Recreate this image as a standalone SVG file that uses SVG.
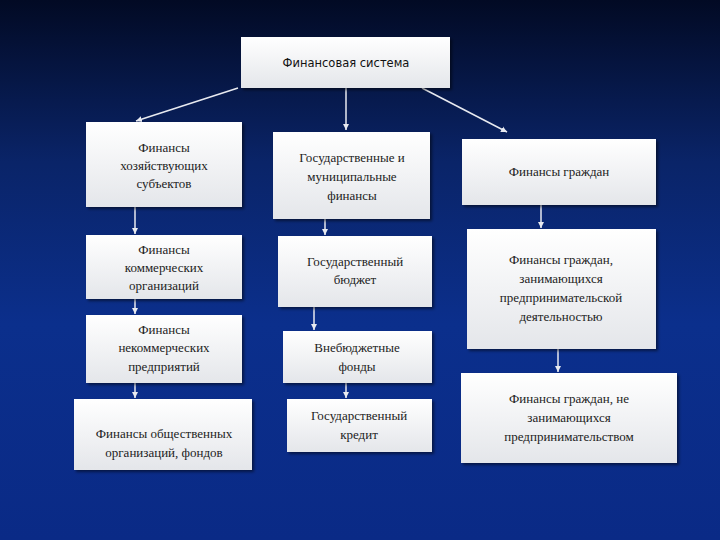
<svg xmlns="http://www.w3.org/2000/svg" width="720" height="540" viewBox="0 0 720 540">
<defs>
<linearGradient id="bg" x1="0" y1="0" x2="0" y2="1">
<stop offset="0" stop-color="#020a24"/><stop offset="0.3" stop-color="#0a2468"/><stop offset="0.6" stop-color="#0b2f8c"/><stop offset="1" stop-color="#0a2a86"/>
</linearGradient>
<linearGradient id="box" x1="0" y1="0" x2="0" y2="1">
<stop offset="0" stop-color="#ffffff"/><stop offset="1" stop-color="#e4e6ea"/>
</linearGradient>
<filter id="sh" x="-10%" y="-10%" width="130%" height="130%"><feDropShadow dx="2" dy="2" stdDeviation="1.5" flood-color="#000" flood-opacity="0.5"/></filter>
<marker id="ar" markerWidth="8" markerHeight="8" refX="6" refY="4" orient="auto" markerUnits="userSpaceOnUse"><path d="M0,1 L6,4 L0,7 z" fill="#e8eaf0"/></marker>
<style>
.b{fill:url(#box);filter:url(#sh)}
.t{font-family:"Liberation Serif",serif;font-size:13px;fill:#222;text-anchor:middle}
.h{font-family:"DejaVu Sans",sans-serif;font-size:11.5px;fill:#111;text-anchor:middle}
.c line{stroke:#e8eaf0;stroke-width:1.5;marker-end:url(#ar)}
</style>
</defs>
<rect width="720" height="540" fill="url(#bg)"/>
<g class="c">
<line x1="238" y1="88" x2="136" y2="121"/>
<line x1="346" y1="88" x2="346" y2="130"/>
<line x1="422" y1="88" x2="507" y2="132"/>
<line x1="135" y1="207" x2="135" y2="234"/>
<line x1="135" y1="299" x2="135" y2="314"/>
<line x1="135" y1="383" x2="135" y2="398"/>
<line x1="325" y1="219" x2="325" y2="235"/>
<line x1="314" y1="307" x2="314" y2="330"/>
<line x1="346" y1="383" x2="346" y2="398"/>
<line x1="541" y1="205" x2="541" y2="228"/>
<line x1="558" y1="349" x2="558" y2="372"/>
</g>
<g id="top"><rect class="b" x="241" y="37" width="209" height="51"/><text class="h" x="346" y="67">Финансовая система</text></g>
<g id="a"><rect class="b" x="86" y="122" width="156" height="85"/><text class="t" x="164" y="152">Финансы</text><text class="t" x="164" y="170">хозяйствующих</text><text class="t" x="164" y="188">субъектов</text></g>
<g id="b"><rect class="b" x="86" y="235" width="156" height="64"/><text class="t" x="164" y="254">Финансы</text><text class="t" x="164" y="272">коммерческих</text><text class="t" x="164" y="290">организаций</text></g>
<g id="c"><rect class="b" x="86" y="315" width="156" height="68"/><text class="t" x="164" y="334">Финансы</text><text class="t" x="164" y="352">некоммерческих</text><text class="t" x="164" y="371">предприятий</text></g>
<g id="d"><rect class="b" x="74" y="399" width="178" height="71"/><text class="t" x="164" y="438">Финансы общественных</text><text class="t" x="164" y="457">организаций, фондов</text></g>
<g id="e"><rect class="b" x="273" y="132" width="157" height="87"/><text class="t" x="352" y="162">Государственные и</text><text class="t" x="352" y="181">муниципальные</text><text class="t" x="352" y="200">финансы</text></g>
<g id="f"><rect class="b" x="278" y="236" width="154" height="71"/><text class="t" x="355" y="266">Государственный</text><text class="t" x="355" y="284">бюджет</text></g>
<g id="g"><rect class="b" x="283" y="331" width="149" height="52"/><text class="t" x="357" y="352">Внебюджетные</text><text class="t" x="357" y="371">фонды</text></g>
<g id="h"><rect class="b" x="287" y="399" width="145" height="53"/><text class="t" x="359" y="420">Государственный</text><text class="t" x="359" y="439">кредит</text></g>
<g id="i"><rect class="b" x="462" y="139" width="194" height="66"/><text class="t" x="559" y="176">Финансы граждан</text></g>
<g id="j"><rect class="b" x="467" y="229" width="189" height="120"/><text class="t" x="561" y="264">Финансы граждан,</text><text class="t" x="561" y="283">занимающихся</text><text class="t" x="561" y="302">предпринимательской</text><text class="t" x="561" y="321">деятельностью</text></g>
<g id="k"><rect class="b" x="461" y="373" width="216" height="90"/><text class="t" x="569" y="403">Финансы граждан, не</text><text class="t" x="569" y="422">занимающихся</text><text class="t" x="569" y="441">предпринимательством</text></g>
</svg>
